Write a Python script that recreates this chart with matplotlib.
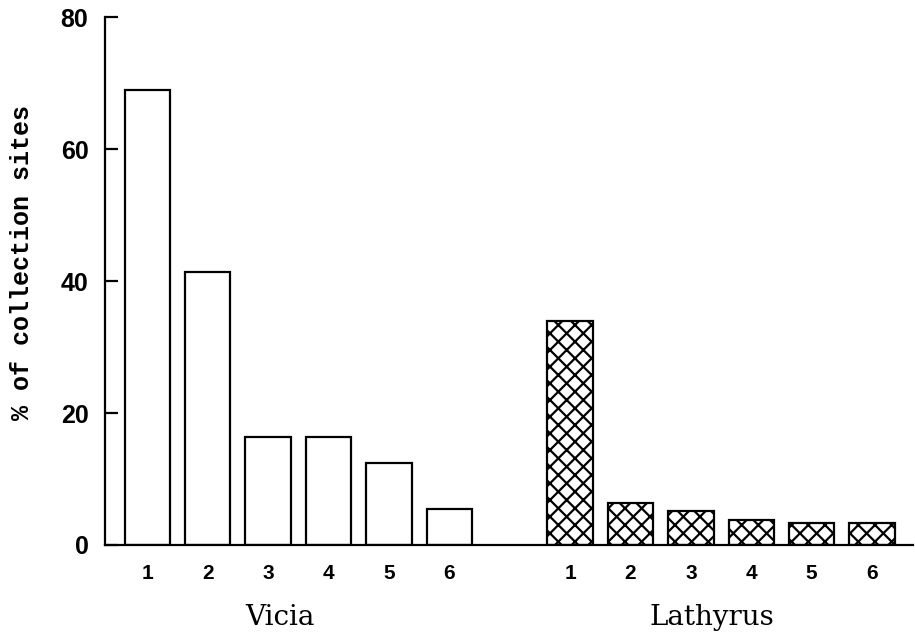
import matplotlib
matplotlib.use("Agg")
import matplotlib.pyplot as plt
import numpy as np

vicia_labels = ["1", "2", "3", "4", "5", "6"]
vicia_values = [69.0, 41.3, 16.3, 16.3, 12.4, 5.4]
lathyrus_labels = ["1", "2", "3", "4", "5", "6"]
lathyrus_values = [34.0, 6.3, 5.2, 3.8, 3.3, 3.3]
group_names = ["Vicia", "Lathyrus"]
yticks = [0, 20, 40, 60, 80]

plt.rcParams['hatch.linewidth'] = 1.6

fig = plt.figure(figsize=(9.15, 6.34), dpi=100)
ax = fig.add_axes([0.1148, 0.1404, 0.8832, 0.8326])

xv = np.arange(len(vicia_values))
xl = np.arange(len(lathyrus_values)) + len(vicia_values) + 1

ax.bar(xv, vicia_values, width=0.75, facecolor="white", edgecolor="black", linewidth=1.6)
ax.bar(xl, lathyrus_values, width=0.75, facecolor="white", edgecolor="black",
       linewidth=1.6, hatch="xx")

ax.set_xlim(-0.7, 12.68)
ax.set_ylim(0, 80)
ax.spines['top'].set_visible(False)
ax.spines['right'].set_visible(False)
ax.spines['left'].set_linewidth(1.6)
ax.spines['bottom'].set_linewidth(1.6)

ax.set_yticks(yticks)
ax.set_yticklabels([str(t) for t in yticks], fontfamily="Liberation Sans",
                   fontweight="bold", fontsize=18)
ax.tick_params(axis='y', direction='in', length=9, width=1.6, pad=12)

ax.set_xticks(list(xv) + list(xl))
ax.set_xticklabels(vicia_labels + lathyrus_labels, fontfamily="Liberation Sans",
                   fontweight="bold", fontsize=15)
ax.tick_params(axis='x', length=0, pad=14)

ax.set_ylabel("% of collection sites", fontfamily="Liberation Mono", fontsize=18,
              fontweight="bold")
ax.yaxis.set_label_coords(-0.088, 0.536)

ax.text(2.2, -11, group_names[0], ha="center", va="center",
        fontfamily="DejaVu Serif", fontsize=20)
ax.text(9.35, -11, group_names[1], ha="center", va="center",
        fontfamily="DejaVu Serif", fontsize=20)

fig.savefig("out.png", dpi=100)
